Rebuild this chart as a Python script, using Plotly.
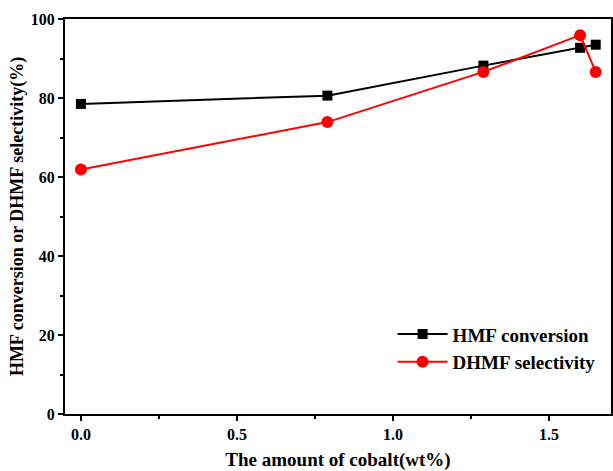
import plotly.graph_objects as go

# Cobalt loading (wt%) and catalytic results (%)
cobalt = [0.0, 0.79, 1.29, 1.60, 1.65]
hmf_conversion = [78.5, 80.6, 88.2, 92.7, 93.5]
dhmf_selectivity = [61.9, 73.9, 86.6, 95.9, 86.6]

x_ticks = [0.0, 0.5, 1.0, 1.5]
x_tick_labels = ["0.0", "0.5", "1.0", "1.5"]
y_ticks = [0, 20, 40, 60, 80, 100]

FONT = "Liberation Serif"

fig = go.Figure()
fig.add_trace(go.Scatter(
    x=cobalt, y=hmf_conversion, mode="lines+markers", name="HMF conversion",
    line=dict(color="black", width=2),
    marker=dict(symbol="square", size=10, color="black"),
))
fig.add_trace(go.Scatter(
    x=cobalt, y=dhmf_selectivity, mode="lines+markers", name="DHMF selectivity",
    line=dict(color="red", width=2),
    marker=dict(symbol="circle", size=12, color="red"),
))

axis_common = dict(
    showgrid=False, zeroline=False, showline=True, linecolor="black",
    linewidth=2, ticks="outside", ticklen=5, tickwidth=1.5, tickcolor="black",
    tickfont=dict(family=FONT, size=16, color="black", weight="bold"),
)

fig.update_layout(
    width=613, height=471,
    margin=dict(l=65, r=0, t=19, b=57),
    plot_bgcolor="white", paper_bgcolor="white",
    font=dict(family=FONT, color="black"),
    xaxis=dict(
        **axis_common,
        range=[-0.051, 1.699], tickvals=x_ticks, ticktext=x_tick_labels,
        mirror=True,
        minor=dict(ticks="outside", ticklen=3, tickwidth=1.5, dtick=0.25,
                   tick0=0, tickcolor="black"),
        title=dict(text="<b>The amount of cobalt(wt%)</b>",
                   font=dict(family=FONT, size=19, color="black"), standoff=10),
    ),
    yaxis=dict(
        **axis_common,
        range=[0, 100], tickvals=y_ticks,
        mirror=True,
        minor=dict(ticks="outside", ticklen=3, tickwidth=1.5, dtick=10,
                   tick0=0, tickcolor="black"),
        title=dict(text="<b>HMF conversion or DHMF selectivity(%)</b>",
                   font=dict(family=FONT, size=18, color="black"), standoff=2),
    ),
    legend=dict(
        x=0.6, y=0.25, xanchor="left", yanchor="top",
        bgcolor="rgba(0,0,0,0)", borderwidth=0,
        font=dict(family=FONT, size=19, color="black", weight="bold"),
        itemwidth=50, tracegroupgap=0,
    ),
    showlegend=True,
)

fig.write_html("out.html")
